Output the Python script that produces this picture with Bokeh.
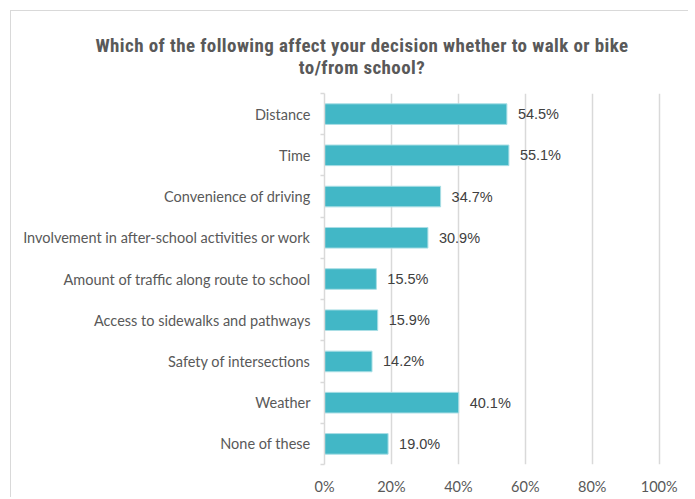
from bokeh.plotting import figure
from bokeh.models import Range1d, FixedTicker, PrintfTickFormatter, ColumnDataSource, Div
from bokeh.layouts import column
from bokeh.core.properties import value
from bokeh.embed import file_html
from bokeh.resources import INLINE

categories = [
    "Distance",
    "Time",
    "Convenience of driving",
    "Involvement in after-school activities or work",
    "Amount of traffic along route to school",
    "Access to sidewalks and pathways",
    "Safety of intersections",
    "Weather",
    "None of these",
]
values = [54.5, 55.1, 34.7, 30.9, 15.5, 15.9, 14.2, 40.1, 19.0]
x_ticks = [0, 20, 40, 60, 80, 100]
title_lines = ["Which of the following affect your decision whether to walk or bike", "to/from school?"]

n = len(categories)
ypos = [i + 0.5 for i in range(n)]

src = ColumnDataSource(dict(
    y=ypos, v=values, lab=[f"{v:.1f}%" for v in values]
))

title_div = Div(
    text="<br>".join(title_lines), width=677, height=72, margin=0,
    styles={"font-family": "'Roboto Condensed', sans-serif", "font-weight": "bold",
            "font-size": "19px", "line-height": "22px", "letter-spacing": "0.4px",
            "color": "#595959", "text-align": "center",
            "padding-left": "25px", "padding-top": "24px", "box-sizing": "border-box"})

p = figure(width=677, height=414, output_backend="svg", toolbar_location=None,
           x_range=Range1d(0, 101), y_range=Range1d(n, 0), margin=0,
           min_border_left=313, min_border_right=26, min_border_top=10, min_border_bottom=31)
p.outline_line_color = None
p.background_fill_color = "white"
p.border_fill_color = "white"

p.hbar(y="y", right="v", left=0, height=0.5, source=src,
       fill_color="#42B7C6", line_color="#A9DEE5", line_width=1)

p.text(x="v", y="y", text="lab", source=src, x_offset=11,
       text_baseline="middle", text_align="left",
       text_font=value("Liberation Sans"), text_font_size="14.5px", text_color="#404040")

# x axis
p.xaxis.ticker = FixedTicker(ticks=x_ticks)
p.xaxis.formatter = PrintfTickFormatter(format="%d%%")
p.xaxis.axis_line_color = None
p.xaxis.major_tick_line_color = None
p.xaxis.minor_tick_line_color = None
p.xaxis.major_tick_out = 0
p.xaxis.major_label_standoff = 13
p.xaxis.major_label_text_font = "Lato"
p.xaxis.major_label_text_font_size = "14.5px"
p.xaxis.major_label_text_color = "#595959"

p.xgrid.ticker = FixedTicker(ticks=x_ticks)
p.xgrid.grid_line_color = "#D9D9D9"
p.xgrid.grid_line_width = 1.5
p.ygrid.grid_line_color = None

# y axis
p.yaxis.ticker = FixedTicker(ticks=ypos, minor_ticks=list(range(n + 1)))
p.yaxis.major_label_overrides = {y: c for y, c in zip(ypos, categories)}
p.yaxis.axis_line_color = "#D9D9D9"
p.yaxis.axis_line_width = 1.5
p.yaxis.major_tick_line_color = None
p.yaxis.major_tick_out = 0
p.yaxis.major_tick_in = 0
p.yaxis.minor_tick_line_color = "#D9D9D9"
p.yaxis.minor_tick_line_width = 1.5
p.yaxis.minor_tick_out = 4
p.yaxis.minor_tick_in = 0
p.yaxis.major_label_standoff = 10
p.yaxis.major_label_text_font = "Lato"
p.yaxis.major_label_text_font_size = "14.5px"
p.yaxis.major_label_text_color = "#595959"

layout = column(title_div, p, spacing=0, margin=(10, 0, 0, 10),
                styles={"border-top": "1px solid #D9D9D9", "border-left": "1px solid #D9D9D9"})

open("out.html", "w").write(file_html(layout, INLINE))
